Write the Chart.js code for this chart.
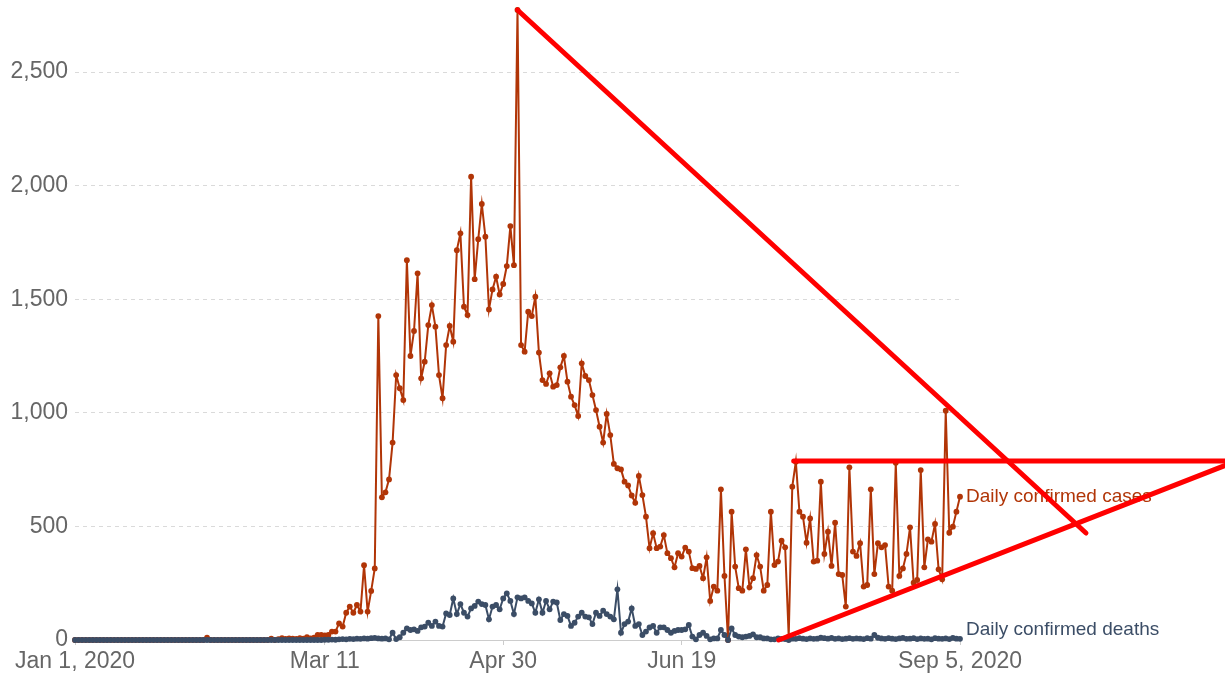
<!DOCTYPE html>
<html lang="en">
<head>
  <meta charset="UTF-8">
  <title>Daily confirmed cases and deaths</title>
  <style>
    html, body { margin: 0; padding: 0; background: #fff; }
    .wrap { position: relative; width: 1225px; height: 676px; }
  </style>
</head>
<body>
  <div class="wrap">
    <canvas id="myChart"></canvas>
  </div>

  <script src="https://cdn.jsdelivr.net/npm/chart.js"></script>
  <script>
    // day 0 = Jan 1, 2020, one value per day up to Sep 5, 2020
    const caseValues = [
      0,0,0,0,0,0,0,0,0,0,
      0,0,0,0,0,0,0,0,0,0,
      0,0,0,0,0,0,0,0,0,0,
      0,0,0,0,0,0,0,10,0,0,
      0,0,0,0,0,0,0,0,0,0,
      0,0,0,0,0,6,0,4,8,5,
      7,6,5,8,6,12,7,10,22,22,
      20,22,37,37,73,59,120,147,120,154,
      125,329,125,216,315,1426,628,650,707,869,
      1166,1108,1056,1672,1250,1360,1614,1152,1225,1386,
      1474,1379,1166,1064,1298,1382,1313,1716,1790,1467,
      1430,2039,1588,1764,1919,1775,1455,1543,1599,1521,
      1567,1646,1822,1650,2773,1298,1269,1445,1426,1511,
      1265,1144,1127,1174,1115,1122,1200,1250,1137,1071,
      1034,986,1218,1162,1144,1078,1012,939,869,995,
      902,775,756,751,697,680,636,604,722,638,
      543,404,470,404,411,462,382,360,320,382,
      367,407,389,316,313,326,272,364,172,235,
      217,663,282,0,565,323,228,217,399,232,
      272,374,323,217,242,565,330,345,437,408,
      15,675,785,565,543,428,535,345,349,697,
      379,477,326,516,290,286,147,760,389,370,
      426,235,242,663,290,426,408,418,235,217,
      780,282,315,379,496,252,264,748,320,443,
      433,511,311,267,1009,472,499,565,631
    ];

    const deathValues = [
      0,0,0,0,0,0,0,0,0,0,
      0,0,0,0,0,0,0,0,0,0,
      0,0,0,0,0,0,0,0,0,0,
      0,0,0,0,0,0,0,0,0,0,
      0,0,0,0,0,0,0,0,0,0,
      0,0,0,0,0,0,0,0,0,0,
      0,0,0,0,0,0,0,0,0,0,
      1,1,2,1,3,4,3,5,4,6,
      5,7,6,8,9,7,6,7,3,32,
      4,12,32,51,44,47,40,56,59,76,
      62,81,62,59,117,110,183,114,158,120,
      103,139,150,169,158,154,91,147,154,135,
      183,205,172,114,188,183,188,172,161,120,
      179,120,172,135,169,165,88,114,106,62,
      76,103,120,103,100,70,120,106,129,114,
      103,91,223,32,70,81,139,62,70,22,
      37,55,62,32,56,56,44,32,40,44,
      44,47,66,15,3,22,32,18,3,7,
      7,44,22,0,51,22,15,12,15,18,
      25,12,12,7,7,3,3,7,5,4,
      0,6,5,8,6,4,7,5,6,10,
      8,6,9,5,7,4,6,8,5,7,
      6,4,8,6,22,10,7,5,8,6,
      4,7,9,5,6,8,4,7,5,6,
      3,8,6,5,7,4,9,6,5
    ];

    const tickDays = [0, 70, 120, 170, 248];
    const tickLabels = ['Jan 1, 2020', 'Mar 11', 'Apr 30', 'Jun 19', 'Sep 5, 2020'];
    const yTicks = [0, 500, 1000, 1500, 2000, 2500];

    // hand drawn red trend lines: [day, value, day, value]
    const trendLines = [
      [124, 2773, 283.3, 471],
      [201.4, 788, 322.6, 788],
      [197.2, 0, 322.6, 770]
    ];

    const casesColor = '#b13507';
    const deathsColor = '#3b4d66';
    const fontFamily = '"Liberation Sans", Arial, sans-serif';

    const toPoints = arr => arr.map((v, i) => ({ x: i, y: v }));

    // end labels + the red lines on top
    const overlay = {
      id: 'overlay',
      afterDraw(chart) {
        const { ctx, chartArea } = chart;
        const xs = chart.scales.x, ys = chart.scales.y;

        chart.data.datasets.forEach((ds, i) => {
          const meta = chart.getDatasetMeta(i);
          const last = meta.data[meta.data.length - 1];
          ctx.save();
          ctx.font = '19px ' + fontFamily;
          ctx.fillStyle = ds.borderColor;
          ctx.textBaseline = 'middle';
          ctx.fillText(ds.label, last.x + 6, Math.min(last.y, chartArea.bottom - 10));
          ctx.restore();
        });

        ctx.save();
        ctx.strokeStyle = '#ff0000';
        ctx.lineWidth = 5;
        ctx.lineCap = 'round';
        trendLines.forEach(l => {
          ctx.beginPath();
          ctx.moveTo(xs.getPixelForValue(l[0]), ys.getPixelForValue(l[1]));
          ctx.lineTo(xs.getPixelForValue(l[2]), ys.getPixelForValue(l[3]));
          ctx.stroke();
        });
        ctx.restore();
      }
    };

    const ctx = document.getElementById('myChart').getContext('2d');
    const myChart = new Chart(ctx, {
      type: 'line',
      data: {
        datasets: [
          {
            label: 'Daily confirmed deaths',
            data: toPoints(deathValues),
            borderColor: deathsColor,
            backgroundColor: deathsColor,
            borderWidth: 2,
            pointRadius: 2.9,
            pointBorderWidth: 0,
            clip: false
          },
          {
            label: 'Daily confirmed cases',
            data: toPoints(caseValues),
            borderColor: casesColor,
            backgroundColor: casesColor,
            borderWidth: 2,
            pointRadius: 2.9,
            pointBorderWidth: 0,
            clip: false
          }
        ]
      },
      options: {
        responsive: true,
        maintainAspectRatio: false,
        animation: false,
        layout: { padding: { top: 10, right: 265, left: 0, bottom: 0 } },
        plugins: {
          legend: { display: false },
          tooltip: { enabled: false }
        },
        scales: {
          x: {
            type: 'linear',
            min: 0,
            max: 248,
            afterBuildTicks: scale => { scale.ticks = tickDays.map(d => ({ value: d })); },
            afterFit: scale => { scale.height = 36; },
            grid: { display: true, drawOnChartArea: false, drawTicks: true, tickLength: 5, color: '#ccc' },
            border: { display: true, color: '#ccc' },
            ticks: {
              autoSkip: false,
              maxRotation: 0,
              padding: 3,
              color: '#666',
              font: { family: fontFamily, size: 23 },
              callback: v => tickLabels[tickDays.indexOf(v)]
            }
          },
          y: {
            min: 0,
            max: 2773,
            afterBuildTicks: scale => { scale.ticks = yTicks.map(v => ({ value: v })); },
            afterFit: scale => {
              scale.width = 75;
              scale.paddingTop = 0;
              scale.paddingBottom = 0;
            },
            grid: { color: '#dadada', drawTicks: false },
            border: { display: false, dash: [4, 4] },
            ticks: {
              padding: 7,
              color: '#666',
              font: { family: fontFamily, size: 23 },
              callback: v => v.toLocaleString('en-US')
            }
          }
        }
      },
      plugins: [overlay]
    });
  </script>
</body>
</html>
